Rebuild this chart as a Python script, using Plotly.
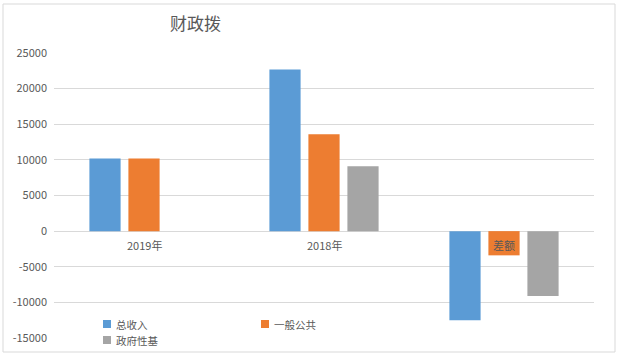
import plotly.graph_objects as go

categories = ["2019年", "2018年", "差额"]
series_names = ["总收入", "一般公共", "政府性基"]
total_income = [10200, 22700, -12500]
general_budget = [10200, 13600, -3400]
gov_fund = [0, 9100, -9100]
y_ticks = [-15000, -10000, -5000, 0, 5000, 10000, 15000, 20000, 25000]
title_text = "财政拨"

colors = ["#5B9BD5", "#ED7D31", "#A5A5A5"]
FONT = "Noto Sans CJK SC, Noto Sans, sans-serif"
W, H = 621, 359
L, R, T, B = 54, 27, 53, 21
pw, ph = W - L - R, H - T - B

def px_x(p):
    return (p - L) / pw

def px_y(p):
    return (H - B - p) / ph

fig = go.Figure()
for name, vals, c in zip(series_names, [total_income, general_budget, gov_fund], colors):
    fig.add_trace(go.Bar(x=categories, y=vals, name=name, marker=dict(color=c, line=dict(width=0)),
                         showlegend=False))

fig.update_layout(
    width=W, height=H,
    margin=dict(l=L, r=R, t=T, b=B, autoexpand=False),
    paper_bgcolor="white", plot_bgcolor="white",
    barmode="group", bargap=0.35, bargroupgap=0.2,
    font=dict(family=FONT, size=11, color="#595959"),
    xaxis=dict(showticklabels=False, showgrid=False, zeroline=False, showline=False,
               range=[-0.5, 2.5]),
    yaxis=dict(range=[-15000, 25000], tickvals=y_ticks, ticktext=[str(v) for v in y_ticks],
               showgrid=True, gridcolor="#D9D9D9", gridwidth=1, zeroline=True,
               zerolinecolor="#D9D9D9", zerolinewidth=1, showline=False, ticks="",
               ticklabelstandoff=6, tickfont=dict(size=11, color="#595959")),
)

# category labels below zero line
for cat in categories:
    fig.add_annotation(x=cat, y=0, xref="x", yref="y", text=cat, showarrow=False,
                       yshift=-14, font=dict(size=11, color="#595959"))

# title
fig.add_annotation(x=px_x(195), y=px_y(22), xref="paper", yref="paper", text=title_text,
                   showarrow=False, xanchor="center", yanchor="middle",
                   font=dict(size=17, color="#595959"))

# legend drawn manually
legend_pos = [(107, 324), (265, 324), (107, 340)]
for (lx, ly), name, c in zip(legend_pos, series_names, colors):
    fig.add_shape(type="rect", xref="paper", yref="paper",
                  x0=px_x(lx - 4), x1=px_x(lx + 4), y0=px_y(ly + 4), y1=px_y(ly - 4),
                  fillcolor=c, line=dict(width=0))
    fig.add_annotation(x=px_x(lx + 8), y=px_y(ly), xref="paper", yref="paper", text=name,
                       showarrow=False, xanchor="left", yanchor="middle", borderpad=0,
                       font=dict(size=10.5, color="#595959"))

# outer border
fig.add_shape(type="rect", xref="paper", yref="paper",
              x0=px_x(3), x1=px_x(615), y0=px_y(352), y1=px_y(4),
              line=dict(color="#D9D9D9", width=1), fillcolor="rgba(0,0,0,0)", layer="below")

fig.write_html("out.html", config={"displayModeBar": False},
               post_script="document.body.style.margin='0';document.body.style.overflow='hidden';")
